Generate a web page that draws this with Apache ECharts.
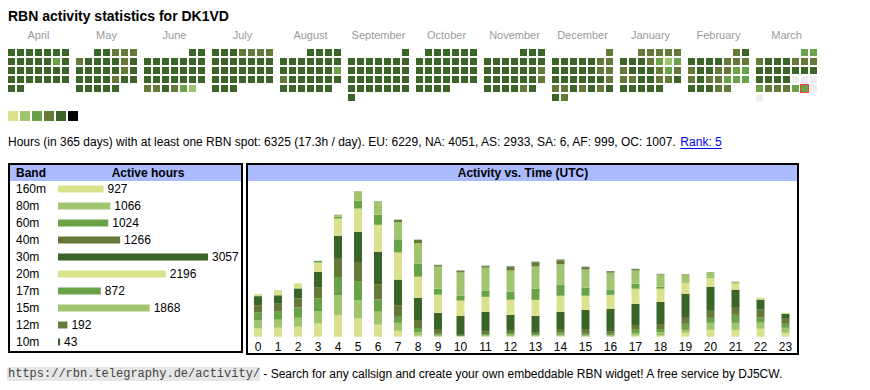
<!DOCTYPE html>
<html><head><meta charset="utf-8">
<script src="https://cdn.jsdelivr.net/npm/echarts@6/dist/echarts.min.js"></script>
<style>html,body{margin:0;padding:0;background:#fff}#c{width:870px;height:390px}</style>
</head><body><div id="c"></div>
<script>
// ---------- calendar data (activity level per day, 0..5) ----------
const monthNames = ['April','May','June','July','August','September','October','November','December','January','February','March'];
const monthKeys = ['2024-04','2024-05','2024-06','2024-07','2024-08','2024-09','2024-10','2024-11','2024-12','2025-01','2025-02','2025-03'];
const apr = [5,5,5,5,5,5,5, 5,5,5,5,5,3,5, 5,5,5,5,5,5,5, 5,5,5,5,5,5,5, 5,5];
const may = [5,5,4,4,4, 4,5,5,5,5,4,5, 5,5,5,5,5,4,5, 5,5,5,5,4,5,5, 5,5,5,5,5];
const jun = [5,5, 5,5,5,5,5,5,5, 5,5,5,5,5,5,5, 5,5,5,5,5,5,5, 4,4,5,4,3,2];
const jul = [5,5,5,4,4,4,4, 5,5,5,5,5,5,5, 5,5,5,5,5,5,5, 5,5,5,5,5,5,5, 5,5,5];
const aug = [5,5,5,5, 5,5,5,5,5,5,5, 5,5,5,5,5,5,3, 4,5,5,5,5,5,5, 5,5,5,5,5,5];
const sep = [5, 5,5,5,5,5,5,5, 5,5,5,5,5,5,5, 5,5,5,5,5,5,5, 5,5,5,5,5,5,5, 5];
const oct = [5,5,5,5,5,5, 5,5,5,5,5,5,5, 5,5,5,5,5,5,5, 5,5,5,5,5,5,5, 5,5,5,5];
const nov = [5,5,5, 5,5,5,5,5,5,5, 5,5,5,5,5,5,4, 5,5,5,5,5,5,4, 5,5,5,5,4,5];
const dec = [4, 5,5,5,5,5,4,4, 5,5,5,5,5,4,4, 5,5,5,5,5,5,4, 4,4,5,4,5,4,5, 5,4];
const jan = [4,4,4,4,4, 5,5,5,4,3,2,3, 4,5,5,5,4,3,4, 4,4,5,5,4,4,5, 5,5,5,5,5];
const feb = [4,5, 5,5,5,5,4,4,4, 4,5,5,4,4,3,3, 4,5,4,4,3,3,3, 5,5,5,4,4];
const mar = [3,3, 4,5,5,5,4,4,4, 5,5,5,5,5,5,5, 5,5,5,5,0,0,0, 3,4,4,4,3,3,0, 0];
const monthData = [apr,may,jun,jul,aug,sep,oct,nov,dec,jan,feb,mar];
const today = '2025-03-29';
const levels = [1,2,3,4,5,6];
const levelColors = ['#dae28c','#a1c46f','#69a247','#657a38','#3b6428','#000000'];

// ---------- band table ----------
const bands = ['160m','80m','60m','40m','30m','20m','17m','15m','12m','10m'];
const bandHours = [927,1066,1024,1266,3057,2196,872,1868,192,43];
const bandColors = ['#dae28c','#a1c46f','#69a247','#657a38','#3b6428','#dae28c','#69a247','#a1c46f','#657a38','#3b6428'];

// ---------- activity vs time (UTC) ----------
const hours = ['0','1','2','3','4','5','6','7','8','9','10','11','12','13','14','15','16','17','18','19','20','21','22','23'];
const h160 = [57,63,70,92,150,128,84,41,7,2,2,2,2,2,5,2,2,7,7,27,48,48,56,27];
const h80  = [56,56,63,85,141,127,92,56,26,7,2,7,12,7,9,7,9,19,26,21,49,49,42,35];
const h60  = [56,56,71,92,127,134,85,42,28,12,2,9,12,9,14,12,9,28,21,42,35,56,35,28];
const h40  = [52,56,63,78,127,134,106,78,56,33,7,21,21,14,26,33,19,28,35,42,49,49,56,35];
const h30  = [63,59,71,106,162,212,226,183,155,113,134,134,106,113,120,134,155,148,155,169,169,127,71,35];
const h20  = [12,28,35,66,120,162,190,190,148,127,106,106,106,113,113,99,99,106,92,78,63,42,14,7];
const h17  = [0,0,0,12,14,56,71,92,92,42,35,42,56,78,78,56,35,35,14,7,7,0,0,0];
const h15  = [0,5,0,0,14,66,94,120,143,155,162,162,148,155,141,127,120,92,85,49,28,14,0,0];
const h12  = [1,0,0,0,0,0,1,16,22,9,9,9,24,29,29,16,9,10,3,2,2,1,0,0];
const h10  = [0,0,0,0,0,0,0,1,2,3,4,5,5,5,5,4,3,2,2,1,1,0,0,0];
const hourSeries = [h160,h80,h60,h40,h30,h20,h17,h15,h12,h10];

// ---------- texts ----------
const titleText = 'RBN activity statistics for DK1VD';
const statsText = 'Hours (in 365 days) with at least one RBN spot: 6325 (17.3h / day). EU: 6229, NA: 4051, AS: 2933, SA: 6, AF: 999, OC: 1007. ';
const rankText = 'Rank: 5';
const urlText = 'https://rbn.telegraphy.de/activity/';
const footerText = ' - Search for any callsign and create your own embeddable RBN widget! A free service by DJ5CW.';

const SANS = '"Liberation Sans", Arial, Helvetica, sans-serif';
const MONO = '"Liberation Mono", "DejaVu Sans Mono", monospace';

function measure(text, font) {
  const c = document.createElement('canvas').getContext('2d');
  c.font = font; return c.measureText(text).width;
}

const chart = echarts.init(document.getElementById('c'), null, {renderer: 'svg', width: 870, height: 390});

const calendars = [], series = [];
monthKeys.forEach((key, i) => {
  calendars.push({
    orient: 'vertical', range: key,
    left: 7 + 68 * i, top: 48, cellSize: [9, 9],
    splitLine: {show: false},
    itemStyle: {color: 'transparent', borderWidth: 0},
    dayLabel: {show: false, firstDay: 1}, monthLabel: {show: false}, yearLabel: {show: false}
  });
  series.push({
    type: 'heatmap', coordinateSystem: 'calendar', calendarIndex: i,
    data: monthData[i].map((v, d) => [key + '-' + String(d + 1).padStart(2, '0'), v]),
    itemStyle: {borderColor: '#ffffff', borderWidth: 2},
    emphasis: {disabled: true}, silent: true
  });
});
const calSeriesIdx = series.map((s, i) => i);
series.push({
  type: 'scatter', coordinateSystem: 'calendar', calendarIndex: 11,
  data: [[today, 1]], symbol: 'rect', symbolSize: 8, silent: true, z: 5,
  itemStyle: {color: 'transparent', borderColor: '#ff0000', borderWidth: 1}
});

// band bars
series.push({
  type: 'bar', xAxisIndex: 0, yAxisIndex: 0, barWidth: 7, silent: true,
  data: bandHours.map((v, i) => ({value: v, itemStyle: {color: bandColors[i]}})),
  label: {show: true, position: 'right', distance: 4, color: '#000', fontSize: 12, fontFamily: SANS}
});
// time bars, two grids (one-digit and two-digit hour columns)
hourSeries.forEach((arr, b) => {
  series.push({type: 'bar', xAxisIndex: 1, yAxisIndex: 1, stack: 'A', barWidth: 8, silent: true,
    itemStyle: {color: bandColors[b]}, data: arr.slice(0, 10)});
  series.push({type: 'bar', xAxisIndex: 2, yAxisIndex: 2, stack: 'B', barWidth: 8, silent: true,
    itemStyle: {color: bandColors[b]}, data: arr.slice(10)});
});

const statsFont = '12px ' + SANS;
const statsW = measure(statsText, statsFont);
const rankW = measure(rankText, statsFont);

const graphics = [];
monthNames.forEach((m, i) => {
  graphics.push({type: 'text', x: 8 + 68 * i + 30.5, y: 35,
    style: {text: m, fill: '#9a9a9a', font: '11px ' + SANS, align: 'center', verticalAlign: 'middle'}});
});
graphics.push(
  {type: 'text', x: 8, y: 142, style: {text: statsText, fill: '#000', font: statsFont, verticalAlign: 'middle'}},
  {type: 'text', x: 8 + statsW, y: 142, style: {text: rankText, fill: '#0000ee', font: statsFont, verticalAlign: 'middle'}},
  {type: 'line', shape: {x1: 8 + statsW, y1: 148.5, x2: 8 + statsW + rankW, y2: 148.5}, style: {stroke: '#0000ee', lineWidth: 1}},
  // band box
  {type: 'rect', shape: {x: 10, y: 165, width: 231, height: 16}, style: {fill: '#aabbff'}},
  {type: 'rect', shape: {x: 9, y: 164, width: 233, height: 188}, style: {fill: 'none', stroke: '#000', lineWidth: 2}},
  {type: 'text', x: 16, y: 173, style: {text: 'Band', fill: '#000', font: 'bold 12px ' + SANS, verticalAlign: 'middle'}},
  {type: 'text', x: 148, y: 173, style: {text: 'Active hours', fill: '#000', font: 'bold 12px ' + SANS, align: 'center', verticalAlign: 'middle'}},
  // time box
  {type: 'rect', shape: {x: 248, y: 165, width: 549, height: 16}, style: {fill: '#aabbff'}},
  {type: 'rect', shape: {x: 247, y: 164, width: 551, height: 190}, style: {fill: 'none', stroke: '#000', lineWidth: 2}},
  {type: 'text', x: 523, y: 173, style: {text: 'Activity vs. Time (UTC)', fill: '#000', font: 'bold 12px ' + SANS, align: 'center', verticalAlign: 'middle'}},
  // footer
  {type: 'rect', shape: {x: 7, y: 367, width: 253, height: 14}, style: {fill: '#e6e6e6'}},
  {type: 'text', x: 8, y: 374, style: {text: urlText, fill: '#444', font: '12px ' + MONO, verticalAlign: 'middle'}},
  {type: 'text', x: 260, y: 374, style: {text: footerText, fill: '#000', font: '12px ' + SANS, verticalAlign: 'middle'}}
);

const hiddenVal = {type: 'value', show: false, min: 0, max: 1050};
chart.setOption({
  backgroundColor: '#ffffff',
  animation: false,
  title: {text: titleText, left: 8, top: 9, padding: 0,
    textStyle: {fontSize: 14, fontWeight: 'bold', color: '#000', fontFamily: SANS}},
  calendar: calendars,
  visualMap: {
    type: 'piecewise', seriesIndex: calSeriesIdx, orient: 'horizontal',
    left: 8, top: 111, padding: 0, itemWidth: 10, itemHeight: 10, itemGap: 2,
    itemSymbol: 'rect', showLabel: false, selectedMode: false,
    pieces: levels.map((v, i) => ({value: v, color: levelColors[i]})),
    outOfRange: {color: '#eeeeee'}
  },
  grid: [
    {left: 58, top: 180.5, width: 150, height: 170, outerBoundsMode: 'none'},
    {left: 248, top: 186.7, width: 200, height: 150, outerBoundsMode: 'none'},
    {left: 448, top: 186.7, width: 350, height: 150, outerBoundsMode: 'none'}
  ],
  xAxis: [
    {type: 'value', gridIndex: 0, show: false, min: 0, max: 'dataMax'},
    {type: 'category', gridIndex: 1, data: hours.slice(0, 10), axisLine: {show: false}, axisTick: {show: false},
      axisLabel: {interval: 0, margin: 4, color: '#000', fontSize: 12, fontFamily: SANS}},
    {type: 'category', gridIndex: 2, data: hours.slice(10), axisLine: {show: false}, axisTick: {show: false},
      axisLabel: {interval: 0, margin: 4, color: '#000', fontSize: 12, fontFamily: SANS}}
  ],
  yAxis: [
    {type: 'category', gridIndex: 0, data: bands, inverse: true, axisLine: {show: false}, axisTick: {show: false},
      splitLine: {show: false},
      axisLabel: {interval: 0, margin: 42, align: 'left', color: '#000', fontSize: 12, fontFamily: SANS}},
    Object.assign({gridIndex: 1, splitLine: {show: false}}, hiddenVal),
    Object.assign({gridIndex: 2, splitLine: {show: false}}, hiddenVal)
  ],
  graphic: {elements: graphics},
  series: series
});
</script></body></html>
